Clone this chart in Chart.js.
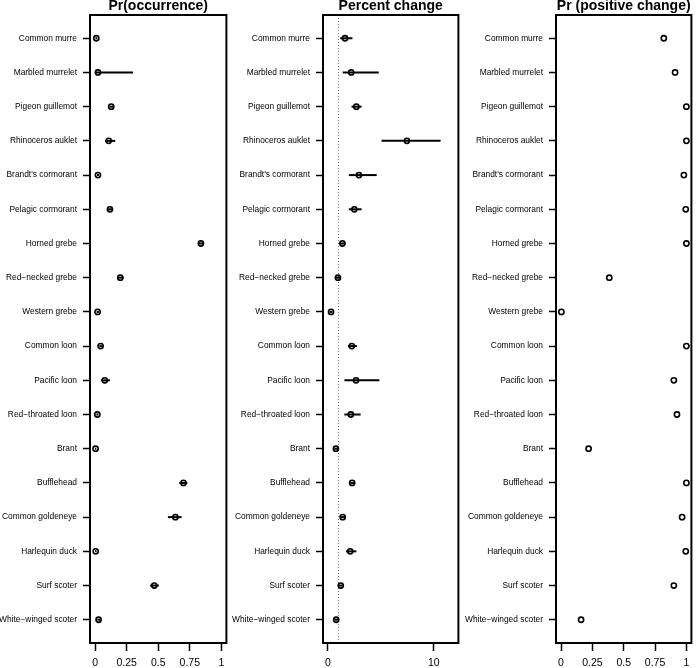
<!DOCTYPE html>
<html>
<head>
<meta charset="utf-8">
<script src="https://cdn.jsdelivr.net/npm/chart.js@4/dist/chart.umd.min.js"></script>
<style>
  body { margin: 0; background: #fff; width: 697px; height: 668px; overflow: hidden; position: relative; }
  canvas { position: absolute; top: 0; }
</style>
</head>
<body>
<canvas id="occ" width="232" height="668" style="left:0"></canvas>
<canvas id="chg" width="232" height="668" style="left:232px"></canvas>
<canvas id="pos" width="233" height="668" style="left:464px"></canvas>
<script>
const species = [
  "Common murre", "Marbled murrelet", "Pigeon guillemot", "Rhinoceros auklet",
  "Brandt's cormorant", "Pelagic cormorant", "Horned grebe", "Red\u2212necked grebe",
  "Western grebe", "Common loon", "Pacific loon", "Red\u2212throated loon",
  "Brant", "Bufflehead", "Common goldeneye", "Harlequin duck",
  "Surf scoter", "White\u2212winged scoter"
];

// Pr(occurrence)
const occMean = [0.01, 0.023, 0.128, 0.108, 0.023, 0.118, 0.838, 0.20, 0.02, 0.044, 0.077, 0.018, 0.004, 0.70, 0.636, 0.005, 0.469, 0.028];
const occLow  = [0.003, 0.005, 0.115, 0.08, 0.015, 0.103, 0.82, 0.177, 0.012, 0.034, 0.046, 0.01, 0.0, 0.667, 0.577, 0.0, 0.436, 0.018];
const occHigh = [0.018, 0.30, 0.142, 0.16, 0.032, 0.135, 0.856, 0.225, 0.03, 0.056, 0.118, 0.027, 0.01, 0.731, 0.685, 0.012, 0.505, 0.04];

// Percent change
const chgMean = [1.62, 2.2, 2.69, 7.46, 2.93, 2.5, 1.37, 0.95, 0.3, 2.26, 2.66, 2.17, 0.76, 2.29, 1.4, 2.11, 1.22, 0.79];
const chgLow  = [1.16, 1.4, 2.23, 5.07, 1.98, 1.98, 1.05, 0.75, 0.15, 1.89, 1.56, 1.56, 0.6, 2.1, 1.15, 1.71, 1.05, 0.62];
const chgHigh = [2.32, 4.8, 3.18, 10.64, 4.61, 3.18, 1.65, 1.15, 0.45, 2.75, 4.86, 3.09, 0.95, 2.5, 1.65, 2.69, 1.4, 0.98];

// Pr (positive change)
const posProb = [0.82, 0.91, 1.0, 1.0, 0.98, 0.995, 1.0, 0.385, 0.003, 1.0, 0.90, 0.925, 0.22, 1.0, 0.966, 0.995, 0.90, 0.16];

const probTicks = [0, 0.25, 0.5, 0.75, 1];
const chgTicks = [0, 10];

const FONT = "'Liberation Sans', Arial, Helvetica, sans-serif";

function panelPlugin(title, lows, highs, refLine) {
  return {
    id: "panelDeco",
    beforeDatasetsDraw(chart) {
      const ctx = chart.ctx, xs = chart.scales.x, ys = chart.scales.y, a = chart.chartArea;
      ctx.save();
      if (refLine !== null) {
        ctx.strokeStyle = "#777";
        ctx.lineWidth = 1;
        ctx.setLineDash([1, 2]);
        const px = Math.round(xs.getPixelForValue(refLine)) + 0.5;
        ctx.beginPath();
        ctx.moveTo(px, a.top);
        ctx.lineTo(px, a.bottom);
        ctx.stroke();
        ctx.setLineDash([]);
      }
      if (lows) {
        ctx.strokeStyle = "#000";
        ctx.lineWidth = 2;
        lows.forEach((lo, i) => {
          const py = ys.getPixelForValue(i + 1);
          ctx.beginPath();
          ctx.moveTo(xs.getPixelForValue(lo), py);
          ctx.lineTo(xs.getPixelForValue(highs[i]), py);
          ctx.stroke();
        });
      }
      ctx.restore();
    },
    afterDraw(chart) {
      const ctx = chart.ctx, a = chart.chartArea;
      ctx.save();
      ctx.strokeStyle = "#000";
      ctx.lineWidth = 2;
      ctx.strokeRect(a.left, a.top, a.right - a.left, a.bottom - a.top);
      ctx.fillStyle = "#000";
      ctx.font = "bold 14px " + FONT;
      ctx.textAlign = "center";
      ctx.textBaseline = "alphabetic";
      ctx.fillText(title, (a.left + a.right) / 2, 10);
      ctx.restore();
    }
  };
}

function makePanel(id, title, means, lows, highs, xMin, xMax, xTicks, refLine, yWidth, padRight) {
  new Chart(document.getElementById(id), {
    type: "scatter",
    data: {
      datasets: [{
        data: means.map((v, i) => ({ x: v, y: i + 1 })),
        pointStyle: "circle",
        pointRadius: 2.6,
        pointBorderWidth: 1.6,
        pointBackgroundColor: "rgba(0,0,0,0)",
        pointBorderColor: "#000",
      }],
    },
    options: {
      responsive: false,
      animation: false,
      layout: { padding: { top: 15, right: padRight, bottom: 0, left: 0 } },
      plugins: { legend: { display: false }, tooltip: { enabled: false }, title: { display: false } },
      scales: {
        x: {
          type: "linear",
          min: xMin,
          max: xMax,
          afterBuildTicks: (s) => { s.ticks = xTicks.map((v) => ({ value: v })); },
          afterFit: (s) => { s.height = 25; },
          border: { display: false },
          grid: { drawOnChartArea: false, drawTicks: true, tickLength: 8, tickWidth: 1.5, tickColor: "#000" },
          ticks: {
            color: "#000", padding: 6, maxRotation: 0, autoSkip: false,
            font: { family: FONT, size: 10.5 },
            callback: (v) => String(v),
          },
        },
        y: {
          type: "linear",
          reverse: true,
          min: 0.32,
          max: 18.68,
          afterBuildTicks: (s) => { s.ticks = species.map((n, i) => ({ value: i + 1 })); },
          afterFit: (s) => { s.width = yWidth; },
          border: { display: false },
          grid: { drawOnChartArea: false, drawTicks: true, tickLength: 7, tickWidth: 1.5, tickColor: "#000" },
          ticks: {
            color: "#000",
            padding: 6,
            autoSkip: false,
            font: { family: FONT, size: 8.4 },
            callback: (v) => species[v - 1],
          },
        },
      },
    },
    plugins: [panelPlugin(title, lows, highs, refLine)],
  });
}

makePanel("occ", "Pr(occurrence)", occMean, occLow, occHigh, -0.04, 1.04, probTicks, null, 90, 2);
makePanel("chg", "Percent change", chgMean, chgLow, chgHigh, -0.46, 12.32, chgTicks, 1, 91, 2);
makePanel("pos", "Pr (positive change)", posProb, null, null, -0.04, 1.04, probTicks, null, 92, 1);
</script>
</body>
</html>
